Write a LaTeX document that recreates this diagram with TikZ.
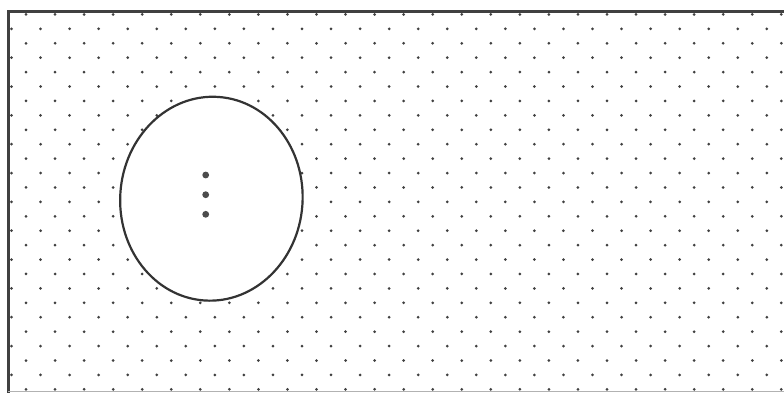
\documentclass[tikz,border=0pt]{standalone}
\begin{document}
\begin{tikzpicture}[x=1pt,y=-1pt,
  griddot/.style={fill=black!75},
  framestyle/.style={draw=black!75,line width=3pt},
  blob/.style={draw=black!80,line width=2.2pt,fill=white},
  innerdot/.style={fill=black!70}]
\useasboundingbox (0,0) rectangle (784,392);
\fill[white] (0,0) rectangle (784,392);
% dotted lattice
\foreach \k in {1,...,27}{
  \foreach \j in {0,...,26}{
    \pgfmathsetmacro\xx{11.5+14.5*mod(\k,2)+29.05*\j}
    \pgfmathsetmacro\yy{14.42*\k}
    \fill[griddot] (\xx,\yy) circle (1.5);
  }
}
% frame (left and top visible)
\draw[framestyle] (8.5,393) -- (8.5,11) -- (785,11);
\draw[draw=black!30,line width=1pt] (8,391.5) -- (785,391.5);
% hand-drawn oval
\draw[blob,rotate around={-4:(211.4,198.7)}] (211.4,198.7) ellipse [x radius=91.2, y radius=102];
% three dots
\fill[innerdot] (205.7,175) circle (3.4);
\fill[innerdot] (205.7,194.7) circle (3.4);
\fill[innerdot] (205.7,214.3) circle (3.4);
\end{tikzpicture}
\end{document}
